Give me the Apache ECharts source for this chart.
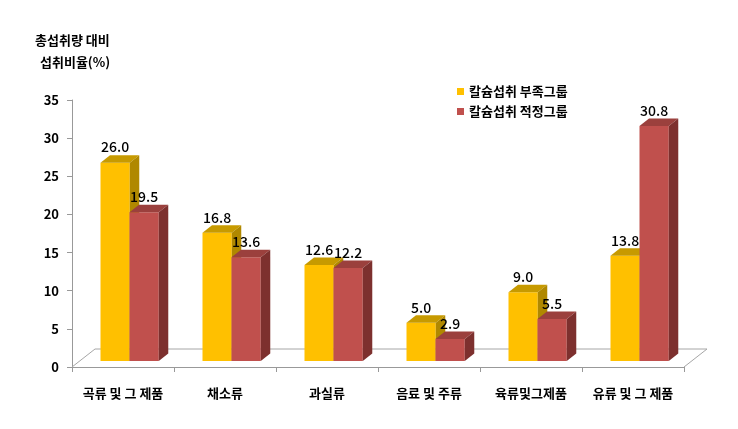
<!DOCTYPE html>
<html><head><meta charset="utf-8">
<script src="https://cdn.jsdelivr.net/npm/echarts@6/dist/echarts.min.js"></script>
<style>html,body{margin:0;padding:0;background:#fff}#c{width:738px;height:429px}</style>
</head><body><div id="c"></div>
<script>
const categories = ['곡류 및 그 제품', '채소류', '과실류', '음료 및 주류', '육류및그제품', '유류 및 그 제품'];
const deficientGroup = [26.0, 16.8, 12.6, 5.0, 9.0, 13.8];
const adequateGroup = [19.5, 13.6, 12.2, 2.9, 5.5, 30.8];
const seriesNames = ['칼슘섭취 부족그룹', '칼슘섭취 적정그룹'];
const yAxisTitle = ['총섭취량 대비', '섭취비율(%)'];
const yMin = 0, yMax = 35, yStep = 5;

const FONT = '"Noto Sans CJK KR", "Noto Sans", sans-serif';
const palettes = [
  {front: '#FFC000', top: '#C79A00', side: '#B08800'},
  {front: '#C0504D', top: '#9B403D', side: '#7D302E'}
];
const offsets = [-0.2206, 0.0637];
const barFrac = 0.287;
const DX = 9.5, DY = -7.5, LIFT = 6;

function makeRender(si) {
  return function (params, api) {
    const i = api.value(0), v = api.value(1);
    const base = api.coord([i, 0]);
    const top = api.coord([i, v]);
    const bw = api.size([1, 0])[0];
    const w = bw * barFrac;
    const l = base[0] + offsets[si] * bw;
    const yb = base[1] - LIFT, yt = top[1] - LIFT;
    const p = palettes[si];
    return {
      type: 'group',
      children: [
        {type: 'rect', shape: {x: l, y: yt, width: w, height: yb - yt}, style: {fill: p.front}},
        {type: 'polygon', shape: {points: [[l, yt], [l + DX, yt + DY], [l + w + DX, yt + DY], [l + w, yt]]}, style: {fill: p.top}},
        {type: 'polygon', shape: {points: [[l + w, yt], [l + w + DX, yt + DY], [l + w + DX, yb + DY], [l + w, yb]]}, style: {fill: p.side}},
        {type: 'text', z2: 100, style: {text: v.toFixed(1), x: l + w / 2, y: yt + DY - 1, align: 'center', verticalAlign: 'bottom', font: '500 14px ' + FONT, fill: '#000'}}
      ]
    };
  };
}

const chart = echarts.init(document.getElementById('c'), null, {renderer: 'canvas'});
chart.setOption({
  animation: false,
  backgroundColor: '#fff',
  textStyle: {fontFamily: FONT},
  grid: {left: 72, right: 54, top: 100, bottom: 62},
  legend: {
    data: seriesNames, orient: 'vertical', left: 452, top: 80, icon: 'rect',
    itemWidth: 7, itemHeight: 7, itemGap: 7,
    textStyle: {fontSize: 13, fontWeight: 'bold', color: '#000', fontFamily: FONT}
  },
  graphic: [
    {type: 'text', left: 35, top: 34, style: {text: yAxisTitle[0], font: 'bold 13px ' + FONT, fill: '#000'}},
    {type: 'text', left: 40, top: 56, style: {text: yAxisTitle[1], font: 'bold 13px ' + FONT, fill: '#000'}}
  ],
  xAxis: {
    type: 'category', data: categories,
    axisLine: {lineStyle: {color: '#999'}},
    axisTick: {show: true, length: 5, lineStyle: {color: '#999'}},
    axisLabel: {margin: 20, fontSize: 13, fontWeight: 'bold', color: '#000', fontFamily: FONT, interval: 0}
  },
  yAxis: {
    type: 'value', min: yMin, max: yMax, interval: yStep,
    axisLine: {show: true, lineStyle: {color: '#999'}},
    axisTick: {show: true, length: 5, lineStyle: {color: '#999'}},
    splitLine: {show: false},
    axisLabel: {margin: 13, fontSize: 13, fontWeight: 'bold', color: '#000', fontFamily: FONT}
  },
  series: [
    {
      type: 'custom', name: 'floor', silent: true, z: 1,
      data: [[0, 0]],
      renderItem: function (params, api) {
        const c = params.coordSys;
        const yb = c.y + c.height;
        return {type: 'polyline', shape: {points: [[c.x, yb], [c.x + 23, yb - 18], [c.x + c.width + 23, yb - 18], [c.x + c.width, yb]]}, style: {stroke: '#A6A6A6', lineWidth: 1, fill: null}};
      }
    },
    {
      type: 'custom', name: seriesNames[0], z: 2, itemStyle: {color: palettes[0].front},
      data: deficientGroup.map((v, i) => [i, v]), renderItem: makeRender(0)
    },
    {
      type: 'custom', name: seriesNames[1], z: 2, itemStyle: {color: palettes[1].front},
      data: adequateGroup.map((v, i) => [i, v]), renderItem: makeRender(1)
    }
  ]
});
</script></body></html>
